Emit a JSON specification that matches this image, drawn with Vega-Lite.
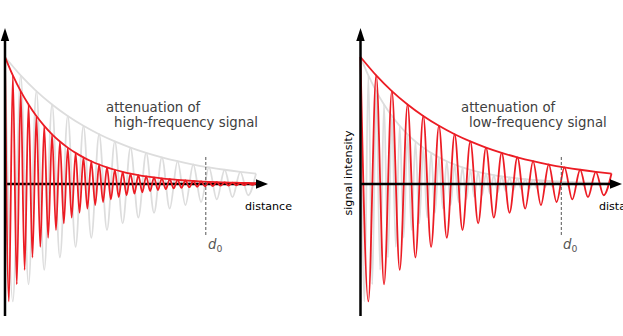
{
  "$schema": "https://vega.github.io/schema/vega-lite/v6.json",
  "padding": 0,
  "spacing": 20,
  "bounds": "flush",
  "config": {"view": {"stroke": null}},
  "datasets": {
    "high": [
      {"t":0,"v":1},{"t":0.015625,"v":-0.9248},{"t":0.03125,"v":0.8553},{"t":0.046875,"v":-0.7911},{"t":0.0625,"v":0.7316},{"t":0.078125,"v":-0.6766},{"t":0.09375,"v":0.6258},{"t":0.109375,"v":-0.5788},{"t":0.125,"v":0.5353},{"t":0.140625,"v":-0.4951},{"t":0.15625,"v":0.4579},{"t":0.171875,"v":-0.4234},{"t":0.1875,"v":0.3916},{"t":0.203125,"v":-0.3622},{"t":0.21875,"v":0.3350},{"t":0.234375,"v":-0.3098},{"t":0.25,"v":0.2865},{"t":0.265625,"v":-0.2650},{"t":0.28125,"v":0.2451},{"t":0.296875,"v":-0.2267},{"t":0.3125,"v":0.2096},{"t":0.328125,"v":-0.1939},{"t":0.34375,"v":0.1793},{"t":0.359375,"v":-0.1658},{"t":0.375,"v":0.1534},{"t":0.390625,"v":-0.1418},{"t":0.40625,"v":0.1312},{"t":0.421875,"v":-0.1213},{"t":0.4375,"v":0.1122},{"t":0.453125,"v":-0.1038},{"t":0.46875,"v":0.0960},{"t":0.484375,"v":-0.0888},{"t":0.5,"v":0.0821},{"t":0.515625,"v":-0.0759},{"t":0.53125,"v":0.0702},{"t":0.546875,"v":-0.0649},{"t":0.5625,"v":0.0601},{"t":0.578125,"v":-0.0555},{"t":0.59375,"v":0.0514},{"t":0.609375,"v":-0.0475},{"t":0.625,"v":0.0439},{"t":0.640625,"v":-0.0406},{"t":0.65625,"v":0.0376},{"t":0.671875,"v":-0.0348},{"t":0.6875,"v":0.0321},{"t":0.703125,"v":-0.0297},{"t":0.71875,"v":0.0275},{"t":0.734375,"v":-0.0254},{"t":0.75,"v":0.0235},{"t":0.765625,"v":-0.0218},{"t":0.78125,"v":0.0201},{"t":0.796875,"v":-0.0186},{"t":0.8125,"v":0.0172},{"t":0.828125,"v":-0.0159},{"t":0.84375,"v":0.0147},{"t":0.859375,"v":-0.0136},{"t":0.875,"v":0.0126},{"t":0.890625,"v":-0.0117},{"t":0.90625,"v":0.0108},{"t":0.921875,"v":-0.0100},{"t":0.9375,"v":0.0092},{"t":0.953125,"v":-0.0085},{"t":0.96875,"v":0.0079},{"t":0.984375,"v":-0.0073},{"t":1,"v":0.0067}
    ],
    "low": [
      {"t":0,"v":1},{"t":0.03125,"v":-0.9248},{"t":0.0625,"v":0.8553},{"t":0.09375,"v":-0.7911},{"t":0.125,"v":0.7316},{"t":0.15625,"v":-0.6766},{"t":0.1875,"v":0.6258},{"t":0.21875,"v":-0.5788},{"t":0.25,"v":0.5353},{"t":0.28125,"v":-0.4951},{"t":0.3125,"v":0.4579},{"t":0.34375,"v":-0.4234},{"t":0.375,"v":0.3916},{"t":0.40625,"v":-0.3622},{"t":0.4375,"v":0.3350},{"t":0.46875,"v":-0.3098},{"t":0.5,"v":0.2865},{"t":0.53125,"v":-0.2650},{"t":0.5625,"v":0.2451},{"t":0.59375,"v":-0.2267},{"t":0.625,"v":0.2096},{"t":0.65625,"v":-0.1939},{"t":0.6875,"v":0.1793},{"t":0.71875,"v":-0.1658},{"t":0.75,"v":0.1534},{"t":0.78125,"v":-0.1418},{"t":0.8125,"v":0.1312},{"t":0.84375,"v":-0.1213},{"t":0.875,"v":0.1122},{"t":0.90625,"v":-0.1038},{"t":0.9375,"v":0.0960},{"t":0.96875,"v":-0.0888},{"t":1,"v":0.0821}
    ],
    "highEnv": [
      {"t":0,"v":1},{"t":0.03125,"v":0.8553},{"t":0.0625,"v":0.7316},{"t":0.09375,"v":0.6258},{"t":0.125,"v":0.5353},{"t":0.15625,"v":0.4579},{"t":0.1875,"v":0.3916},{"t":0.21875,"v":0.3350},{"t":0.25,"v":0.2865},{"t":0.28125,"v":0.2451},{"t":0.3125,"v":0.2096},{"t":0.34375,"v":0.1793},{"t":0.375,"v":0.1534},{"t":0.40625,"v":0.1312},{"t":0.4375,"v":0.1122},{"t":0.46875,"v":0.0960},{"t":0.5,"v":0.0821},{"t":0.53125,"v":0.0702},{"t":0.5625,"v":0.0601},{"t":0.59375,"v":0.0514},{"t":0.625,"v":0.0439},{"t":0.65625,"v":0.0376},{"t":0.6875,"v":0.0321},{"t":0.71875,"v":0.0275},{"t":0.75,"v":0.0235},{"t":0.78125,"v":0.0201},{"t":0.8125,"v":0.0172},{"t":0.84375,"v":0.0147},{"t":0.875,"v":0.0126},{"t":0.90625,"v":0.0108},{"t":0.9375,"v":0.0092},{"t":0.96875,"v":0.0079},{"t":1,"v":0.0067}
    ],
    "lowEnv": [
      {"t":0,"v":1},{"t":0.0625,"v":0.8553},{"t":0.125,"v":0.7316},{"t":0.1875,"v":0.6258},{"t":0.25,"v":0.5353},{"t":0.3125,"v":0.4579},{"t":0.375,"v":0.3916},{"t":0.4375,"v":0.3350},{"t":0.5,"v":0.2865},{"t":0.5625,"v":0.2451},{"t":0.625,"v":0.2096},{"t":0.6875,"v":0.1793},{"t":0.75,"v":0.1534},{"t":0.8125,"v":0.1312},{"t":0.875,"v":0.1122},{"t":0.9375,"v":0.0960},{"t":1,"v":0.0821}
    ],
    "xaxis": [{"t":0,"t2":1.02,"v":0}],
    "yaxis": [{"t":0,"v":-1.039,"v2":1.15}],
    "d0": [{"t":0.8,"v":0.2126,"v2":-0.4094}]
  },
  "hconcat": [
    {
      "width": 320,
      "height": 336,
      "encoding": {
        "x": {"field":"t","type":"quantitative","scale":{"domain":[-0.01992,1.25498],"nice":false,"zero":false},"axis":null},
        "y": {"field":"v","type":"quantitative","scale":{"domain":[-1.1969,1.4488],"nice":false,"zero":false},"axis":null}
      },
      "layer": [
        {"data":{"name":"low"},"mark":{"type":"line","interpolate":"monotone","color":"#dddddd","strokeWidth":1.8}},
        {"data":{"name":"lowEnv"},"mark":{"type":"line","interpolate":"monotone","color":"#dddddd","strokeWidth":1.8}},
        {"data":{"name":"xaxis"},"mark":{"type":"rule","color":"black","strokeWidth":2.5},"encoding":{"x2":{"field":"t2"}}},
        {"data":{"name":"high"},"mark":{"type":"line","interpolate":"monotone","color":"#ec1c24","strokeWidth":1.8}},
        {"data":{"name":"highEnv"},"mark":{"type":"line","interpolate":"monotone","color":"#ec1c24","strokeWidth":1.8}},
        {"data":{"name":"d0"},"mark":{"type":"rule","color":"#555555","strokeWidth":1,"strokeDash":[3,2]},"encoding":{"y2":{"field":"v2"}}},
        {"data":{"name":"yaxis"},"mark":{"type":"rule","color":"black","strokeWidth":2.5},"encoding":{"y2":{"field":"v2"}}},
        {"data":{"values":[{"t":0,"v":1.228}]},"mark":{"type":"point","shape":"M0,0L0.65,2L-0.65,2Z","size":169,"filled":true,"color":"black","opacity":1,"strokeWidth":0}},
        {"data":{"values":[{"t":1.0478,"v":0}]},"mark":{"type":"point","shape":"M0,0L-2,-0.8L-2,0.8Z","size":144,"filled":true,"color":"black","opacity":1,"strokeWidth":0}},
        {"data":{"values":[{"t":0.4024,"v":0.5669,"label":"attenuation of"},{"t":0.4343,"v":0.4488,"label":"high-frequency signal"}]},"mark":{"type":"text","align":"left","baseline":"alphabetic","font":"DejaVu Sans","fontSize":13.3,"color":"#404040"},"encoding":{"text":{"field":"label"}}},
        {"data":{"values":[{"t":0.9562,"v":-0.2047,"label":"distance"}]},"mark":{"type":"text","align":"left","baseline":"alphabetic","font":"DejaVu Sans","fontSize":11.1,"color":"black"},"encoding":{"text":{"field":"label"}}},
        {"data":{"values":[{"t":0.8088,"v":-0.512,"label":"d"}]},"mark":{"type":"text","align":"left","baseline":"alphabetic","font":"DejaVu Sans","fontSize":13.3,"fontStyle":"italic","color":"#555555"},"encoding":{"text":{"field":"label"}}},
        {"data":{"values":[{"t":0.8426,"v":-0.535,"label":"0"}]},"mark":{"type":"text","align":"left","baseline":"alphabetic","font":"DejaVu Sans","fontSize":9.3,"color":"#555555"},"encoding":{"text":{"field":"label"}}}
      ]
    },
    {
      "width": 283,
      "height": 336,
      "encoding": {
        "x": {"field":"t","type":"quantitative","scale":{"domain":[-0.08167,1.04582],"nice":false,"zero":false},"axis":null},
        "y": {"field":"v","type":"quantitative","scale":{"domain":[-1.1969,1.4488],"nice":false,"zero":false},"axis":null}
      },
      "layer": [
        {"data":{"name":"high"},"mark":{"type":"line","interpolate":"monotone","color":"#dddddd","strokeWidth":1.8}},
        {"data":{"name":"highEnv"},"mark":{"type":"line","interpolate":"monotone","color":"#dddddd","strokeWidth":1.8}},
        {"data":{"name":"low"},"mark":{"type":"line","interpolate":"monotone","color":"#ec1c24","strokeWidth":1.8}},
        {"data":{"name":"lowEnv"},"mark":{"type":"line","interpolate":"monotone","color":"#ec1c24","strokeWidth":1.8}},
        {"data":{"name":"xaxis"},"mark":{"type":"rule","color":"black","strokeWidth":2.5},"encoding":{"x2":{"field":"t2"}}},
        {"data":{"name":"d0"},"mark":{"type":"rule","color":"#555555","strokeWidth":1,"strokeDash":[3,2]},"encoding":{"y2":{"field":"v2"}}},
        {"data":{"name":"yaxis"},"mark":{"type":"rule","color":"black","strokeWidth":2.5},"encoding":{"y2":{"field":"v2"}}},
        {"data":{"values":[{"t":0,"v":1.228}]},"mark":{"type":"point","shape":"M0,0L0.65,2L-0.65,2Z","size":169,"filled":true,"color":"black","opacity":1,"strokeWidth":0}},
        {"data":{"values":[{"t":1.0418,"v":0}]},"mark":{"type":"point","shape":"M0,0L-2,-0.8L-2,0.8Z","size":144,"filled":true,"color":"black","opacity":1,"strokeWidth":0,"clip":true}},
        {"data":{"values":[{"t":0.4004,"v":0.5669,"label":"attenuation of"},{"t":0.4323,"v":0.4488,"label":"low-frequency signal"}]},"mark":{"type":"text","align":"left","baseline":"alphabetic","font":"DejaVu Sans","fontSize":13.3,"color":"#404040"},"encoding":{"text":{"field":"label"}}},
        {"data":{"values":[{"t":0.950,"v":-0.2047,"label":"distance"}]},"mark":{"type":"text","align":"left","baseline":"alphabetic","font":"DejaVu Sans","fontSize":11.1,"color":"black","clip":true},"encoding":{"text":{"field":"label"}}},
        {"data":{"values":[{"t":0.8068,"v":-0.512,"label":"d"}]},"mark":{"type":"text","align":"left","baseline":"alphabetic","font":"DejaVu Sans","fontSize":13.3,"fontStyle":"italic","color":"#555555"},"encoding":{"text":{"field":"label"}}},
        {"data":{"values":[{"t":0.8406,"v":-0.535,"label":"0"}]},"mark":{"type":"text","align":"left","baseline":"alphabetic","font":"DejaVu Sans","fontSize":9.3,"color":"#555555"},"encoding":{"text":{"field":"label"}}},
        {"data":{"values":[{"t":-0.0339,"v":0.0866,"label":"signal intensity"}]},"mark":{"type":"text","align":"center","baseline":"alphabetic","angle":270,"font":"DejaVu Sans","fontSize":11.2,"color":"black"},"encoding":{"text":{"field":"label"}}}
      ]
    }
  ]
}
